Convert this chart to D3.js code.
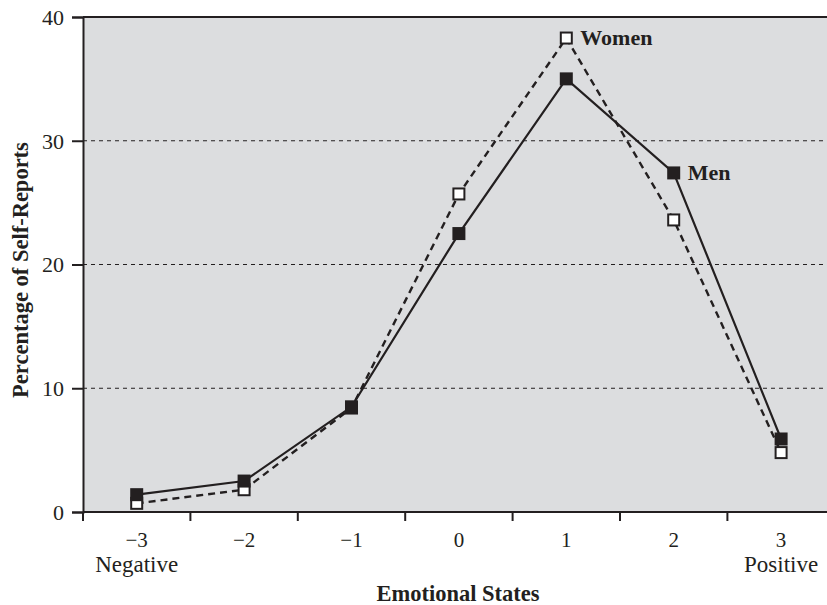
<!DOCTYPE html>
<html>
<head>
<meta charset="utf-8">
<script src="https://cdn.jsdelivr.net/npm/d3@7"></script>
<style>
  html, body { margin: 0; padding: 0; background: #ffffff; }
  svg { display: block; }
  text { font-family: "Liberation Serif", "DejaVu Serif", serif; fill: #231f20; }
</style>
</head>
<body>
<svg id="chart" width="827" height="605"></svg>
<script>
// ---- data ----
const categories = ["\u22123", "\u22122", "\u22121", "0", "1", "2", "3"];
const subLabels = ["Negative", "", "", "", "", "", "Positive"];
const menValues = [1.4, 2.5, 8.5, 22.5, 35.0, 27.4, 5.9];
const womenValues = [0.7, 1.8, 8.4, 25.7, 38.3, 23.6, 4.8];
const yTicks = [0, 10, 20, 30, 40];
const gridValues = [10, 20, 30];
const seriesLabels = ["Women", "Men"];
const xTitle = "Emotional States";
const yTitle = "Percentage of Self-Reports";

(function () {
  // ---- layout ----
  const svg = d3.select("#chart");
  const pLeft = 83, pTop = 17, pBottom = 512;
  const bandW = 107.4;
  const pRight = pLeft + bandW * categories.length;
  const ink = "#231f20";
  const serif = "Liberation Serif, serif";

  const x = d3.scaleBand().domain(categories).range([pLeft, pRight]).padding(0);
  const y = d3.scaleLinear().domain([0, 40]).range([pBottom, pTop]);

  // background
  svg.append("rect")
    .attr("x", pLeft).attr("y", pTop)
    .attr("width", pRight - pLeft).attr("height", pBottom - pTop)
    .attr("fill", "#dcdddf");

  // gridlines
  svg.append("g").selectAll("line").data(gridValues).join("line")
    .attr("x1", pLeft).attr("x2", pRight)
    .attr("y1", d => y(d)).attr("y2", d => y(d))
    .attr("stroke", ink).attr("stroke-width", 1)
    .attr("stroke-dasharray", "4,4");

  // top border
  svg.append("line")
    .attr("x1", pLeft).attr("x2", pRight)
    .attr("y1", pTop).attr("y2", pTop)
    .attr("stroke", ink).attr("stroke-width", 2);

  // y axis
  const yAxis = svg.append("g")
    .attr("transform", `translate(${pLeft},0)`)
    .call(d3.axisLeft(y).tickValues(yTicks).tickSize(11).tickPadding(8).tickFormat(d3.format("d")));
  yAxis.select(".domain").attr("stroke", ink).attr("stroke-width", 2);
  yAxis.selectAll(".tick line").attr("stroke", ink).attr("stroke-width", 2);
  yAxis.selectAll(".tick text")
    .attr("font-size", 22).attr("font-family", serif).attr("fill", ink)
    .attr("dy", "0.34em");

  // x axis labels (centered in bands)
  const xAxis = svg.append("g")
    .attr("transform", `translate(0,${pBottom})`)
    .call(d3.axisBottom(x).tickSize(0).tickPadding(20));
  xAxis.select(".domain").remove();
  xAxis.selectAll(".tick text")
    .attr("font-size", 21).attr("font-family", serif).attr("fill", ink);

  // axis line
  svg.append("line")
    .attr("x1", pLeft).attr("x2", pRight)
    .attr("y1", pBottom).attr("y2", pBottom)
    .attr("stroke", ink).attr("stroke-width", 2);

  // x tick marks at band boundaries
  svg.append("g").selectAll("line").data(categories).join("line")
    .attr("x1", d => x(d)).attr("x2", d => x(d))
    .attr("y1", pBottom).attr("y2", pBottom + 9)
    .attr("stroke", ink).attr("stroke-width", 2);

  // sub labels
  svg.append("g").selectAll("text").data(categories).join("text")
    .attr("x", d => x(d) + x.bandwidth() / 2)
    .attr("y", 572)
    .attr("text-anchor", "middle")
    .attr("font-size", 23)
    .text((d, i) => subLabels[i]);

  // axis titles
  svg.append("text")
    .attr("x", 458).attr("y", 601)
    .attr("text-anchor", "middle")
    .attr("font-size", 22.5).attr("font-weight", "bold")
    .text(xTitle);

  svg.append("text")
    .attr("transform", `translate(28,270) rotate(-90)`)
    .attr("text-anchor", "middle")
    .attr("font-size", 22.5).attr("font-weight", "bold")
    .text(yTitle);

  const cx = (d, i) => x(categories[i]) + x.bandwidth() / 2;
  const line = d3.line().x((d, i) => cx(d, i)).y(d => y(d));

  // women (dashed, open squares)
  svg.append("path").datum(womenValues)
    .attr("d", line).attr("fill", "none")
    .attr("stroke", ink).attr("stroke-width", 2.4)
    .attr("stroke-dasharray", "7,5");

  // men (solid)
  svg.append("path").datum(menValues)
    .attr("d", line).attr("fill", "none")
    .attr("stroke", ink).attr("stroke-width", 2.2);

  const ws = 11;
  svg.append("g").selectAll("rect").data(womenValues).join("rect")
    .attr("x", (d, i) => cx(d, i) - ws / 2).attr("y", d => y(d) - ws / 2)
    .attr("width", ws).attr("height", ws)
    .attr("fill", "#ffffff").attr("stroke", ink).attr("stroke-width", 2);

  const ms = 13;
  svg.append("g").selectAll("rect").data(menValues).join("rect")
    .attr("x", (d, i) => cx(d, i) - ms / 2).attr("y", d => y(d) - ms / 2)
    .attr("width", ms).attr("height", ms)
    .attr("fill", ink);

  // series labels
  svg.append("text")
    .attr("x", cx(null, 4) + 14).attr("y", y(womenValues[4]) + 7)
    .attr("font-size", 22).attr("font-weight", "bold")
    .text(seriesLabels[0]);
  svg.append("text")
    .attr("x", cx(null, 5) + 14).attr("y", y(menValues[5]) + 7)
    .attr("font-size", 22).attr("font-weight", "bold")
    .text(seriesLabels[1]);
})();
</script>
</body>
</html>
